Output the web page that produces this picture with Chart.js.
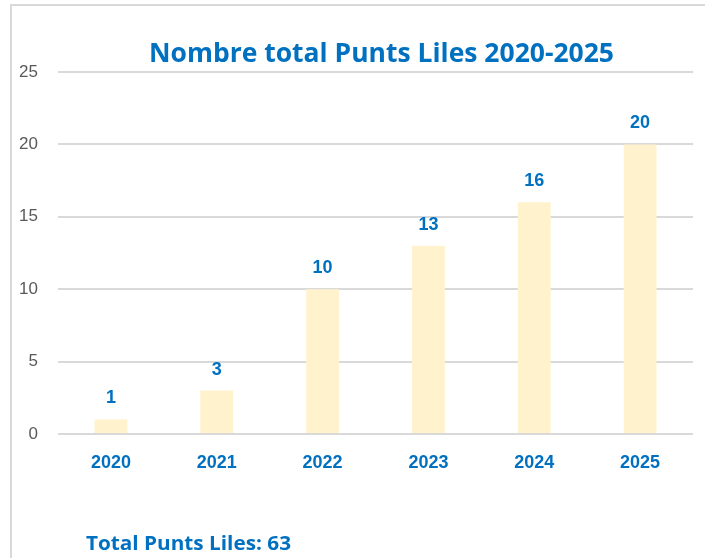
<!DOCTYPE html>
<html>
<head>
<meta charset="utf-8">
<script src="https://cdn.jsdelivr.net/npm/chart.js@4/dist/chart.umd.min.js"></script>
<style>
  html, body { margin: 0; padding: 0; background: #fff; overflow: hidden; }
  #wrap { position: relative; width: 705px; height: 558px; }
  #frame {
    position: absolute; left: 10px; top: 4px; width: 800px; height: 700px;
    border-left: 2px solid #d9d9d9; border-top: 2px solid #d9d9d9;
  }
  canvas { position: absolute; left: 0; top: 0; }
</style>
</head>
<body>
<div id="wrap">
  <div id="frame"></div>
  <canvas id="chart" width="705" height="558"></canvas>
</div>
<script>
const years = ['2020', '2021', '2022', '2023', '2024', '2025'];
const punts = [1, 3, 10, 13, 16, 20];
const yTicks = [0, 5, 10, 15, 20, 25];
const titleText = 'Nombre total Punts Liles 2020-2025';
const totalText = 'Total Punts Liles: 63';

const blue = '#0070C0';

// draws text squeezed into a given ink width
function fitText(ctx, text, x, y, font, width) {
  ctx.save();
  ctx.font = font;
  const w = ctx.measureText(text).width;
  ctx.translate(x, y);
  ctx.scale(width / w, 1);
  ctx.fillText(text, 0, 0);
  ctx.restore();
}

const extras = {
  id: 'extras',
  afterDatasetsDraw(chart) {
    const ctx = chart.ctx;
    const meta = chart.getDatasetMeta(0);
    ctx.save();
    ctx.fillStyle = blue;
    ctx.font = 'bold 18px "Liberation Sans", Arial, sans-serif';
    ctx.textAlign = 'center';
    ctx.textBaseline = 'middle';
    meta.data.forEach((bar, i) => {
      ctx.fillText(punts[i], bar.x, bar.y - 21);
    });
    ctx.textAlign = 'left';
    ctx.textBaseline = 'alphabetic';
    fitText(ctx, titleText, 149, 62, 'bold 27px "Open Sans", sans-serif', 465);
    fitText(ctx, totalText, 86, 550, 'bold 20px "Open Sans", sans-serif', 205);
    ctx.restore();
  }
};

new Chart(document.getElementById('chart'), {
  type: 'bar',
  data: {
    labels: years,
    datasets: [{
      data: punts,
      backgroundColor: '#FFF2CC',
      borderWidth: 0,
      barPercentage: 0.62,
      categoryPercentage: 0.5
    }]
  },
  options: {
    responsive: false,
    animation: false,
    layout: { padding: { left: 12, right: 12, top: 72, bottom: 74 } },
    plugins: { legend: { display: false }, title: { display: false }, tooltip: { enabled: false } },
    scales: {
      x: {
        grid: { display: false },
        border: { display: false },
        ticks: {
          color: blue,
          font: { family: '"Liberation Sans", Arial, sans-serif', size: 18, weight: 'bold' },
          padding: 10
        },
        afterFit(scale) { scale.height = 50; }
      },
      y: {
        min: 0,
        max: 25,
        afterBuildTicks(scale) { scale.ticks = yTicks.map(v => ({ value: v })); },
        grid: { color: '#d9d9d9', lineWidth: 2, drawTicks: false },
        border: { display: false },
        ticks: {
          color: '#595959',
          font: { family: '"Liberation Sans", Arial, sans-serif', size: 17 },
          padding: 20
        },
        afterFit(scale) { scale.width = 46; }
      }
    }
  },
  plugins: [extras]
});
</script>
</body>
</html>
